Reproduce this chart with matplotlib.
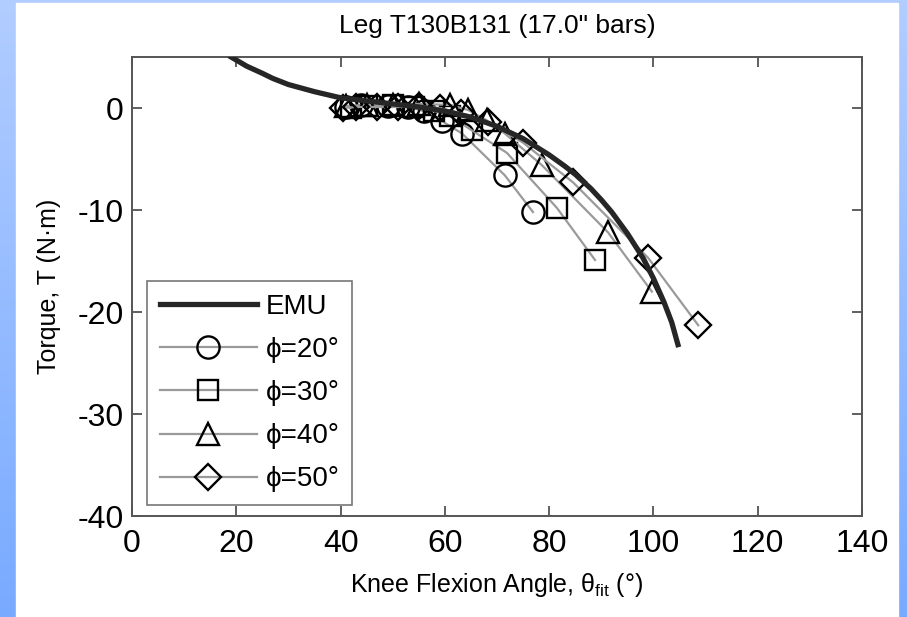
import numpy as np
import matplotlib
matplotlib.use("Agg")
import matplotlib.pyplot as plt
from matplotlib.patches import Rectangle

plt.rcParams['font.family'] = ['Liberation Sans', 'DejaVu Sans']
plt.rcParams['axes.unicode_minus'] = False
plt.rcParams['mathtext.fontset'] = 'custom'
plt.rcParams['mathtext.rm'] = 'Liberation Sans'
plt.rcParams['mathtext.it'] = 'Liberation Sans'

# EMU reference curve
emu_x = [19, 22, 25, 27, 30, 35, 40, 45, 50, 55, 60, 65, 70, 75, 80, 83, 85, 88, 90, 92,
         95, 98, 100, 102, 103.5, 104.7]
emu_y = [5.0, 4.1, 3.4, 2.9, 2.3, 1.6, 1.0, 0.7, 0.4, 0.1, -0.3, -0.9, -1.8, -3.0, -4.6,
         -5.7, -6.5, -7.9, -9.0, -10.2, -12.3, -14.7, -16.7, -19.0, -21.0, -23.2]

# measured points for each bar angle phi
phi20_x = [41, 44, 49, 53, 56, 59.5, 63.3, 71.5, 76.9]
phi20_y = [0.1, 0.3, 0.2, 0.1, -0.3, -1.3, -2.5, -6.6, -10.2]
phi30_x = [42, 45, 50, 54, 58, 61, 65.2, 71.9, 81.5, 88.8]
phi30_y = [0.0, 0.2, 0.3, 0.1, -0.3, -0.8, -2.2, -4.4, -9.8, -14.9]
phi40_x = [41, 45, 50, 55, 61, 64.5, 68, 71.5, 78.6, 91.3, 99.7]
phi40_y = [0.2, 0.3, 0.3, 0.4, 0.3, -0.2, -1.2, -2.5, -5.6, -12.2, -18.0]
phi50_x = [40.5, 43, 47, 51, 55, 59, 63, 68.3, 75, 84.6, 99, 108.6]
phi50_y = [0.0, 0.1, 0.1, 0.1, 0.2, 0.0, -0.5, -1.4, -3.4, -7.3, -14.7, -21.3]

series_labels = ['\u03d5=20\u00b0', '\u03d5=30\u00b0', '\u03d5=40\u00b0', '\u03d5=50\u00b0']
x_ticks = [0, 20, 40, 60, 80, 100, 120, 140]
y_ticks = [0, -10, -20, -30, -40]

W, H = 907, 617
fig = plt.figure(figsize=(W / 100, H / 100), dpi=100)

# slide-style blue frame behind a white page
bg = fig.add_axes([0, 0, 1, 1], zorder=-10)
grad = np.linspace(0, 1, 256).reshape(-1, 1)
top = np.array([178, 205, 255]) / 255
bot = np.array([120, 170, 255]) / 255
img = top[None, None, :] * (1 - grad[:, :, None]) + bot[None, None, :] * grad[:, :, None]
bg.imshow(img, aspect='auto', extent=[0, 1, 0, 1], origin='upper')
bg.add_patch(Rectangle((16 / W, 0), (898 - 16) / W, 1 - 3 / H, color='white'))
bg.set_xlim(0, 1)
bg.set_ylim(0, 1)
bg.axis('off')

ax = fig.add_axes([132 / W, 1 - 516 / H, (862 - 132) / W, (516 - 57) / H])
ax.set_facecolor('white')

ax.plot(emu_x, emu_y, color='#262626', lw=3.8, label='EMU', zorder=3,
        solid_joinstyle='round')

markers = ['o', 's', '^', 'D']
sizes = [16, 14, 16, 13]
data = [(phi20_x, phi20_y), (phi30_x, phi30_y), (phi40_x, phi40_y), (phi50_x, phi50_y)]
for (xs, ys), m, ms, lab in zip(data, markers, sizes, series_labels):
    ax.plot(xs, ys, color='#9a9a9a', lw=1.6, marker=m, ms=ms, mfc='none',
            mec='black', mew=1.7, label=lab, zorder=2)

ax.set_xlim(0, 140)
ax.set_ylim(-40, 5)
ax.set_xticks(x_ticks)
ax.set_yticks(y_ticks)
ax.tick_params(direction='in', length=7, width=1.2, color='#444444',
               top=True, right=True, labelsize=23)
ax.tick_params(axis='x', pad=9)
ax.tick_params(axis='y', pad=6)
for s in ax.spines.values():
    s.set_color('#555555')
    s.set_linewidth(1.4)

ax.set_title('Leg T130B131 (17.0" bars)', fontsize=19, pad=17)
ax.set_xlabel(r'Knee Flexion Angle, $\theta_{\rm fit}$ (°)', fontsize=18, labelpad=9)
ax.set_ylabel('Torque, T (N\u00b7m)', fontsize=18, labelpad=12)

leg = ax.legend(loc='lower left', fontsize=20, handlelength=3.5, borderpad=0.45,
                labelspacing=0.62, handletextpad=0.3, fancybox=False,
                borderaxespad=0, bbox_to_anchor=(0.021, 0.024))
leg.get_frame().set_edgecolor('#555555')
leg.get_frame().set_linewidth(1.2)

fig.savefig('out.png', dpi=100)
